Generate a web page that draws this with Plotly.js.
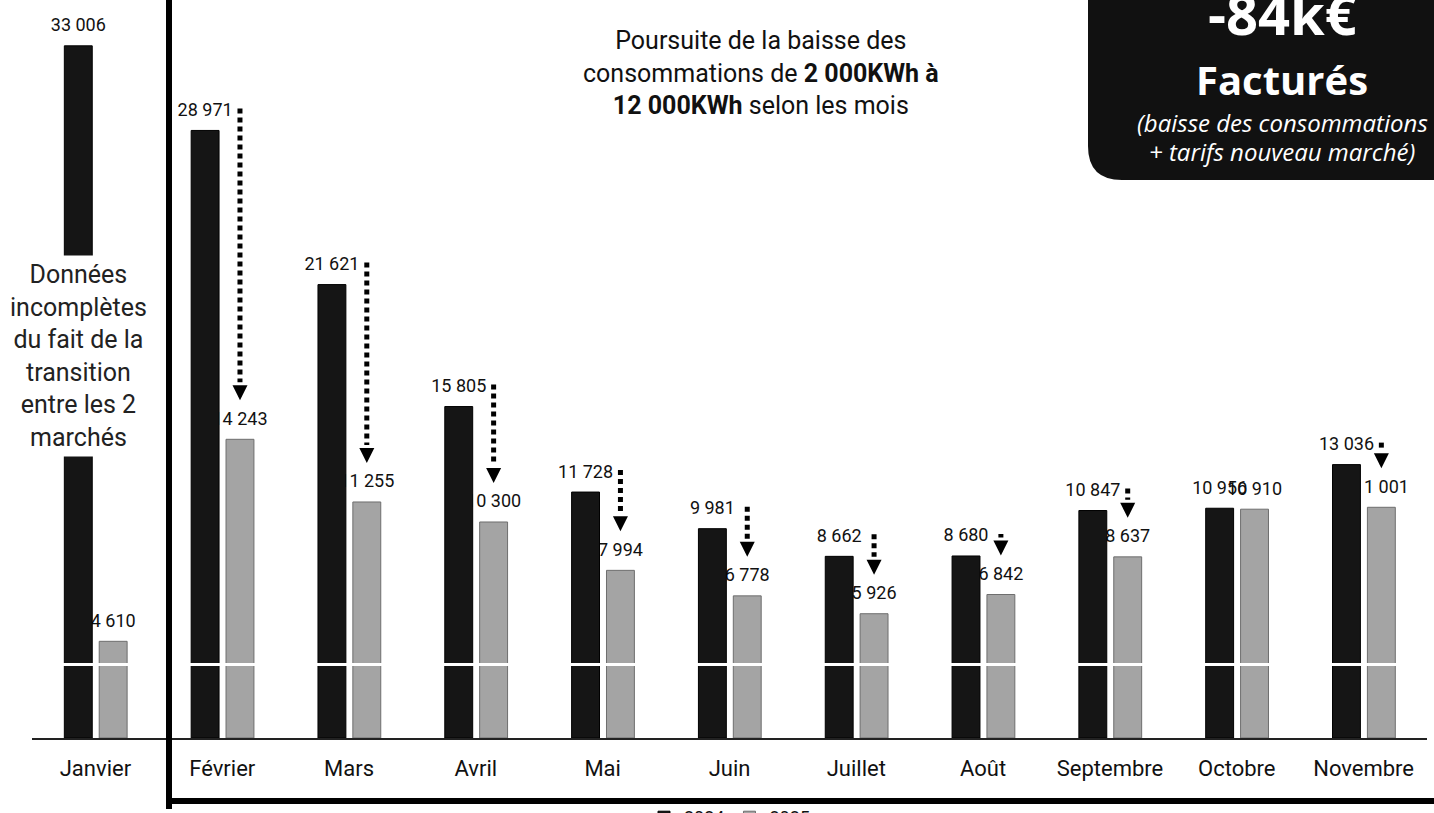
<!DOCTYPE html>
<html>
<head>
<meta charset="utf-8">
<script src="https://cdn.plot.ly/plotly-3.0.1.min.js"></script>
<style>
  html, body { margin: 0; padding: 0; background: #ffffff; }
  #chart { width: 1434px; height: 813px; }
</style>
</head>
<body>
<div id="chart"></div>
<script>
// ---- Data (kWh) ----
const months = ['Janvier', 'Février', 'Mars', 'Avril', 'Mai', 'Juin', 'Juillet', 'Août', 'Septembre', 'Octobre', 'Novembre'];
const conso2024 = [33006, 28971, 21621, 15805, 11728, 9981, 8662, 8680, 10847, 10956, 13036];
const conso2025 = [4610, 14243, 11255, 10300, 7994, 6778, 5926, 6842, 8637, 10910, 11001];
const seriesNames = ['2024', '2025'];

// ---- Layout constants ----
const W = 1434, H = 813;
const M = { l: 32, r: 7, t: 4, b: 75 };
const yMax = 35000;
const plotH = H - M.t - M.b;
const pxPerUnit = plotH / yMax;
const barW = 0.22, offDark = -0.245, offGray = 0.03;
const labelPadPx = 7.5;
const darkColor = '#151515', grayColor = '#a4a4a4';
const font = 'Roboto, "Noto Sans", sans-serif';

const xs = months.map((m, i) => i);
const padUnits = labelPadPx / pxPerUnit;

// Label carriers (transparent bars a few px taller so labels sit a bit higher)
const grayCarrier = {
  type: 'bar', x: xs, y: conso2025.map(v => v + padUnits), customdata: conso2025,
  width: barW, offset: offGray, marker: { color: 'rgba(0,0,0,0)' },
  texttemplate: '%{customdata:,}', textposition: 'outside', constraintext: 'none', cliponaxis: false,
  outsidetextfont: { family: font, size: 18, color: '#111' },
  showlegend: false, hoverinfo: 'skip'
};
const grayBars = {
  type: 'bar', name: seriesNames[1], x: xs, y: conso2025, width: barW, offset: offGray,
  marker: { color: grayColor, line: { color: '#6e6e6e', width: 1 } },
  legendrank: 2, hoverinfo: 'skip', cliponaxis: false
};
const darkCarrier = {
  type: 'bar', x: xs, y: conso2024.map(v => v + padUnits), customdata: conso2024,
  width: barW, offset: offDark, marker: { color: 'rgba(0,0,0,0)' },
  texttemplate: '%{customdata:,}', textposition: 'outside', constraintext: 'none', cliponaxis: false,
  outsidetextfont: { family: font, size: 18, color: '#111' },
  showlegend: false, hoverinfo: 'skip'
};
const darkBars = {
  type: 'bar', name: seriesNames[0], x: xs, y: conso2024, width: barW, offset: offDark,
  marker: { color: darkColor, line: { color: '#000', width: 1 } },
  legendrank: 1, hoverinfo: 'skip', cliponaxis: false
};

// ---- Arrows (dotted line + head) for months with a clear decrease ----
const shapes = [];
const annotations = [];
const arrowX = offGray + barW / 2;
const headGapPx = 39, headLenPx = 15, tailPadPx = 22;
xs.forEach((x, i) => {
  const diff = conso2024[i] - conso2025[i];
  if (i === 0 || diff < 500) return;
  const yTop = conso2024[i] + tailPadPx / pxPerUnit;
  const yBot = conso2025[i] + (headGapPx + headLenPx + 3) / pxPerUnit;
  if (yTop > yBot) {
    shapes.push({ type: 'line', xref: 'x', yref: 'y', x0: x + arrowX, x1: x + arrowX, y0: yTop, y1: yBot,
      line: { color: '#000', width: 5, dash: '5px,4px' }, layer: 'above' });
  }
  annotations.push({ xref: 'x', yref: 'y', x: x + arrowX, y: conso2025[i], text: '', showarrow: true,
    ax: 0, ay: -headLenPx, arrowhead: 2, arrowwidth: 3, arrowsize: 1, arrowcolor: '#000', yshift: headGapPx });
});

// white separator line across bars
shapes.unshift({ type: 'line', xref: 'paper', yref: 'y', x0: 0, x1: 1, y0: 3500, y1: 3500,
  line: { color: '#ffffff', width: 3 }, layer: 'above' });

// helpers px -> paper
const px2x = px => (px - M.l) / (W - M.l - M.r);
const px2y = py => (H - M.b - py) / plotH;

// frame around Février..Novembre
shapes.push({ type: 'path', xref: 'paper', yref: 'paper',
  path: `M${px2x(169)},${px2y(-5)} L${px2x(169)},${px2y(809)} M${px2x(166)},${px2y(801)} L${px2x(1445)},${px2y(801)}`,
  line: { color: '#000', width: 6 }, layer: 'above' });

// black rounded box top right
const bx0 = px2x(1088), bx1 = px2x(1445), byT = px2y(-10), byB = px2y(180);
const rx = 34 / (W - M.l - M.r), ry = 34 / plotH;
shapes.push({ type: 'path', xref: 'paper', yref: 'paper',
  path: `M${bx0},${byT} L${bx1},${byT} L${bx1},${byB} L${bx0 + rx},${byB} Q${bx0},${byB} ${bx0},${byB + ry} Z`,
  fillcolor: '#111111', line: { width: 0 }, layer: 'above' });

const boxX = px2x(1282);
const boxFont = '"Open Sans", sans-serif';
annotations.push(
  { xref: 'paper', yref: 'paper', x: boxX, y: px2y(13), text: '<b>-84k€</b>', showarrow: false,
    font: { family: boxFont, size: 56, color: '#fff' }, xanchor: 'center', yanchor: 'middle' },
  { xref: 'paper', yref: 'paper', x: boxX, y: px2y(79), text: '<b>Facturés</b>', showarrow: false,
    font: { family: boxFont, size: 40, color: '#fff' }, xanchor: 'center', yanchor: 'middle' },
  { xref: 'paper', yref: 'paper', x: boxX, y: px2y(122), text: '<i>(baisse des consommations</i>', showarrow: false,
    font: { family: boxFont, size: 24, color: '#fff' }, xanchor: 'center', yanchor: 'middle' },
  { xref: 'paper', yref: 'paper', x: boxX, y: px2y(151), text: '<i>+ tarifs nouveau marché)</i>', showarrow: false,
    font: { family: boxFont, size: 24, color: '#fff' }, xanchor: 'center', yanchor: 'middle' },
  { xref: 'paper', yref: 'paper', x: px2x(761), y: px2y(73),
    text: 'Poursuite de la baisse des<br>consommations de <b>2 000KWh à</b><br><b>12 000KWh</b> selon les mois',
    showarrow: false, font: { family: font, size: 25, color: '#111' }, xanchor: 'center', yanchor: 'middle' },
  { xref: 'x', yref: 'paper', x: 0 + offDark + barW / 2, y: px2y(356),
    text: 'Données<br>incomplètes<br>du fait de la<br>transition<br>entre les 2<br>marchés',
    showarrow: false, bgcolor: '#ffffff', borderpad: 4,
    font: { family: font, size: 25, color: '#222' }, xanchor: 'center', yanchor: 'middle' }
);

const layout = {
  width: W, height: H,
  margin: { l: M.l, r: M.r, t: M.t, b: M.b, autoexpand: false },
  paper_bgcolor: '#ffffff', plot_bgcolor: '#ffffff',
  barmode: 'overlay',
  separators: ', ',
  showlegend: true,
  legend: { orientation: 'h', x: 0.5, xanchor: 'center', y: px2y(799), yanchor: 'top',
    font: { family: font, size: 18, color: '#111' }, bgcolor: 'rgba(0,0,0,0)' },
  xaxis: {
    type: 'linear', range: [-0.5, months.length - 0.5], tickvals: xs, ticktext: months,
    ticks: '', showgrid: false, zeroline: false, showline: true, linecolor: '#222', linewidth: 2,
    tickfont: { family: font, size: 22, color: '#111' }, ticklabelstandoff: 10
  },
  yaxis: { range: [0, yMax], visible: false, showgrid: false, zeroline: false },
  shapes: shapes,
  annotations: annotations
};

Plotly.newPlot('chart', [grayCarrier, grayBars, darkCarrier, darkBars], layout, { displayModeBar: false, staticPlot: true });
</script>
</body>
</html>
